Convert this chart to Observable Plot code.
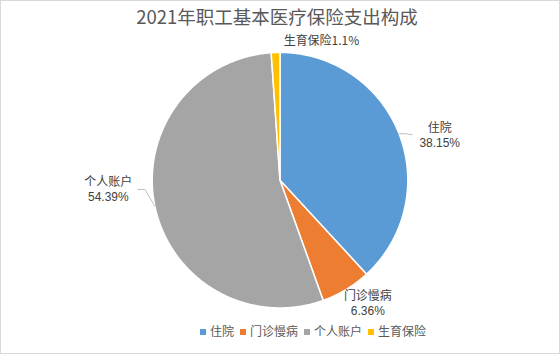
<!DOCTYPE html>
<html><head><meta charset="utf-8">
<script src="https://cdn.jsdelivr.net/npm/d3@7"></script>
<script src="https://cdn.jsdelivr.net/npm/@observablehq/plot@0.6"></script>
<style>
html,body{margin:0;padding:0;background:#fff;}
#chart{position:relative;width:560px;height:354px;box-sizing:border-box;border:1px solid #d9d9d9;font-family:"Noto Sans CJK SC","Noto Sans",sans-serif;overflow:hidden;}
#title{position:absolute;top:2px;left:0;width:100%;text-align:center;font-size:18.5px;color:#595959;padding-right:6px;box-sizing:border-box;}
#plot{position:absolute;left:-1px;top:-1px;}
#legend{position:absolute;top:321px;left:199px;display:flex;gap:6px;font-size:12px;color:#595959;white-space:nowrap;}
#legend span.sw{display:inline-block;width:6px;height:6px;margin-right:4px;vertical-align:1px;}
</style>
</head><body>
<div id="chart"><div id="title">2021年职工基本医疗保险支出构成</div><div id="plot"></div><div id="legend"></div></div>
<script>
// data
const categories = ["住院", "门诊慢病", "个人账户", "生育保险"];
const values = [38.15, 6.36, 54.39, 1.1];
const valueLabels = ["38.15%", "6.36%", "54.39%", "1.1%"];
const colors = ["#5B9BD5", "#ED7D31", "#A5A5A5", "#FFC000"];

// layout
const W = 560, H = 354, cx = 280, cy = 180, R = 128;
const labelPos = [[160, -45], [88, 123.5], [-172, 9.5], [41.5, -139]];
const lineGap = 7.5;

const total = d3.sum(values);
const pt = (a, r) => [cx + r * Math.sin(a), cy - r * Math.cos(a)];
let acc = 0;
const slices = values.map((v, i) => {
  const a0 = acc / total * 2 * Math.PI; acc += v;
  const a1 = acc / total * 2 * Math.PI;
  return {name: categories[i], a0, a1, mid: (a0 + a1) / 2, i};
});
const poly = [];
for (const s of slices) {
  poly.push({name: s.name, x: cx, y: cy});
  const n = Math.max(4, Math.ceil((s.a1 - s.a0) / 0.01));
  for (let k = 0; k <= n; k++) {
    const [x, y] = pt(s.a0 + (s.a1 - s.a0) * k / n, R);
    poly.push({name: s.name, x, y});
  }
  poly.push({name: s.name, x: cx, y: cy});
}
const leaders = [];
{
  const e0 = pt(slices[0].mid, R);
  leaders.push({id: 0, x: e0[0], y: e0[1]}, {id: 0, x: e0[0] + 6, y: e0[1]}, {id: 0, x: e0[0] + 13, y: e0[1] + 1});
  const e2 = pt(slices[2].mid, R);
  leaders.push({id: 2, x: e2[0], y: e2[1]}, {id: 2, x: e2[0] - 10, y: e2[1] - 17}, {id: 2, x: e2[0] - 17, y: e2[1] - 17});
}
const nameLabels = [], valLabels = [];
slices.forEach((s, i) => {
  const x = cx + labelPos[i][0], y = cy + labelPos[i][1];
  if (i === 3) {
    nameLabels.push({x, y, text: categories[i] + valueLabels[i]});
  } else {
    nameLabels.push({x, y: y - lineGap, text: categories[i]});
    valLabels.push({x, y: y + lineGap, text: valueLabels[i]});
  }
});

const plot = Plot.plot({
  width: W, height: H, margin: 0,
  x: {domain: [0, W], range: [0, W], axis: null},
  y: {domain: [0, H], range: [0, H], axis: null},
  color: {domain: categories, range: colors},
  marks: [
    Plot.line(poly, {x: "x", y: "y", z: "name", fill: "name", stroke: "white", strokeWidth: 1.5, curve: "linear"}),
    Plot.line(leaders, {x: "x", y: "y", z: "id", stroke: "#bfbfbf", strokeWidth: 1}),
    Plot.text(nameLabels, {x: "x", y: "y", text: "text", fontSize: 12, fill: "#404040", fontFamily: "Noto Sans CJK SC"}),
    Plot.text(valLabels, {x: "x", y: "y", text: "text", fontSize: 12, fill: "#404040", fontFamily: "Liberation Sans"})
  ]
});
document.getElementById("plot").appendChild(plot);

const lg = document.getElementById("legend");
categories.forEach((c, i) => {
  const d = document.createElement("span");
  d.innerHTML = `<span class="sw" style="background:${colors[i]}"></span>${c}`;
  lg.appendChild(d);
});
</script>
</body></html>
